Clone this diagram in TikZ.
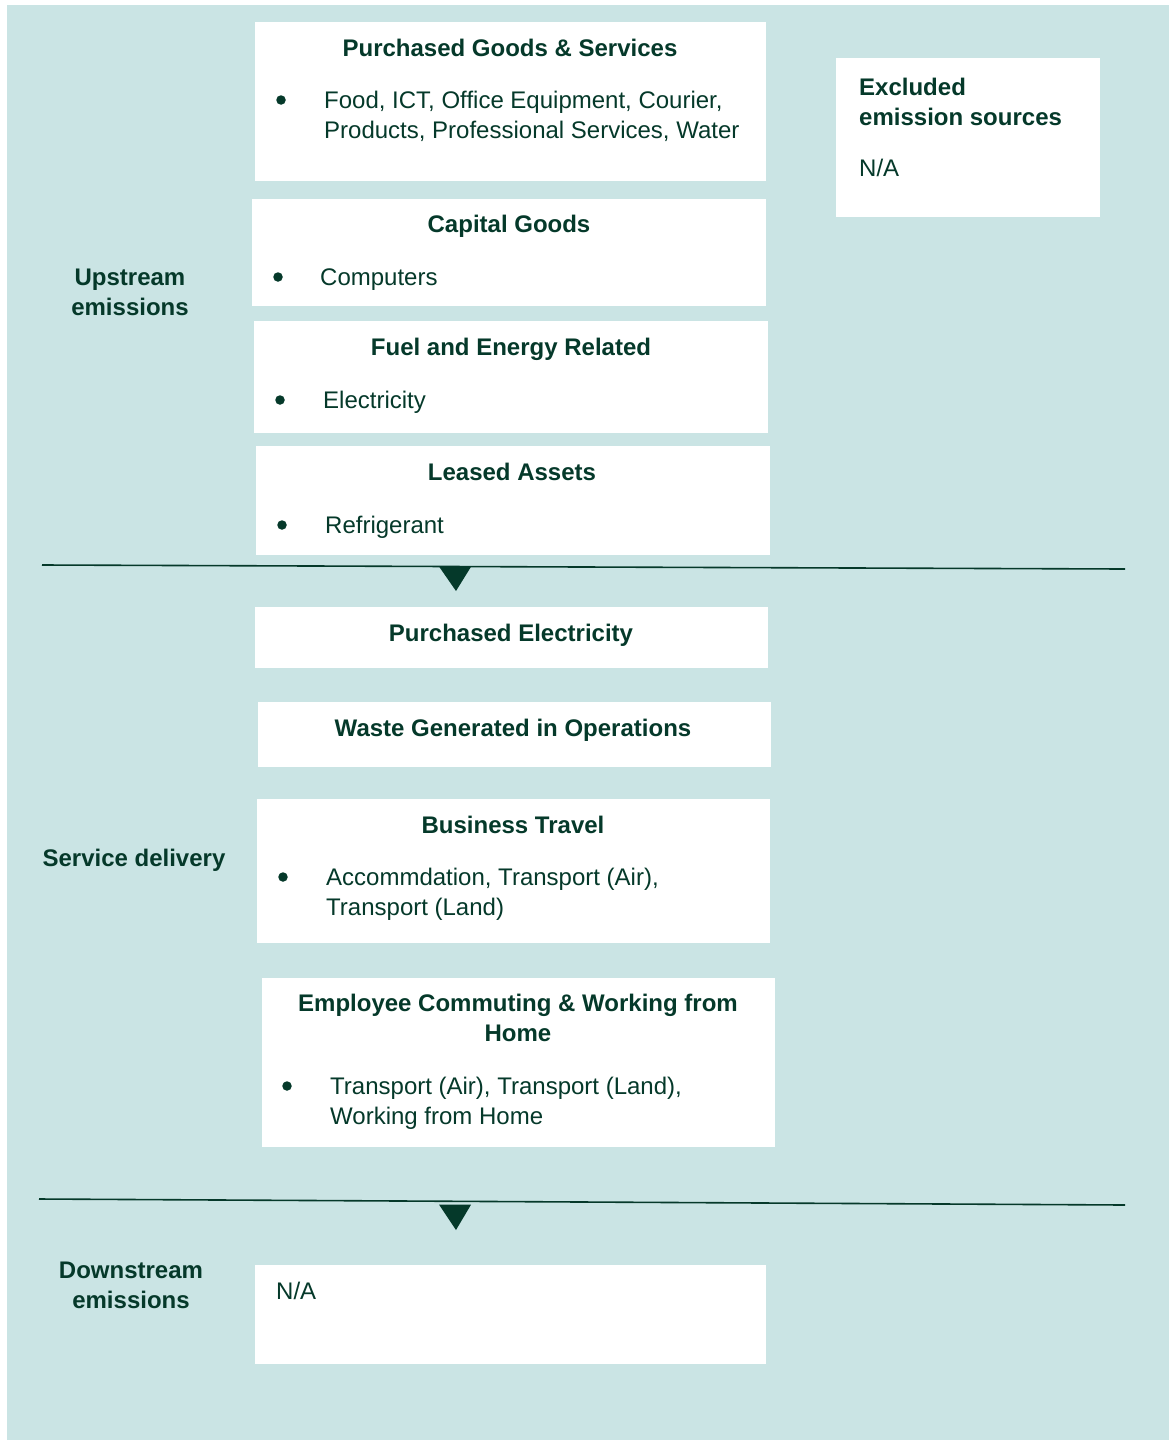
\documentclass[tikz,border=0pt]{standalone}
\usepackage{fontspec}
\setmainfont{Liberation Sans}
\definecolor{bgteal}{HTML}{CAE4E4}
\definecolor{dkgreen}{HTML}{05392A}

\tikzset{
  box/.style={fill=white, anchor=north west, inner sep=0pt, outer sep=0pt},
  head/.style={font=\fontsize{24}{30}\selectfont\bfseries, text=dkgreen, anchor=base, inner sep=0pt},
  txt/.style={font=\fontsize{24}{30}\selectfont, text=dkgreen, anchor=base west, inner sep=0pt},
  dot/.style={circle, fill=dkgreen, minimum size=9.5pt, inner sep=0pt},
  side/.style={font=\fontsize{24}{30}\selectfont\bfseries, text=dkgreen, anchor=base, inner sep=0pt},
  split/.style={draw=dkgreen, line width=1.6pt},
  tip/.style={fill=dkgreen}
}

\begin{document}
\begin{tikzpicture}[x=1pt, y=-1pt]
\useasboundingbox (0,0) rectangle (1169,1440);
\fill[bgteal] (7,5) rectangle (1169,1440);

% upstream
\node[box, minimum width=511, minimum height=159] (pgs) at (255,22) {};
\node[head] (pgsh) at (510,56) {Purchased Goods \& Services};
\node[dot] (pgsd) at (281,100) {};
\node[txt] (pgs1) at (324,108) {Food, ICT, Office Equipment, Courier,};
\node[txt] (pgs2) at (324,138) {Products, Professional Services, Water};

\node[box, minimum width=514, minimum height=107] (cap) at (252,199) {};
\node[head] (caph) at (509,232) {Capital Goods};
\node[dot] (capd) at (278,277) {};
\node[txt] (cap1) at (320,285) {Computers};

\node[box, minimum width=514, minimum height=112] (fuel) at (254,321) {};
\node[head] (fuelh) at (511,355) {Fuel and Energy Related};
\node[dot] (fueld) at (280,400) {};
\node[txt] (fuel1) at (323,408) {Electricity};

\node[box, minimum width=514, minimum height=109] (lease) at (256,446) {};
\node[head] (leaseh) at (512,480) {Leased Assets};
\node[dot] (leased) at (282,525) {};
\node[txt] (lease1) at (325,533) {Refrigerant};

\node[side] (up1) at (130,285) {Upstream};
\node[side] (up2) at (130,315) {emissions};

% excluded
\node[box, minimum width=264, minimum height=159] (excl) at (836,58) {};
\node[side, anchor=base west] (excl1) at (859,95) {Excluded};
\node[side, anchor=base west] (excl2) at (859,125) {emission sources};
\node[txt] (excl3) at (859,176) {N/A};

% first divider
\coordinate (s1a) at (42,565);
\coordinate (s1b) at (1125,569);
\draw[split] (s1a) -- (s1b);
\fill[tip] (439,566.5) -- (471,566.8) -- (456,591) -- cycle;

% service delivery
\node[box, minimum width=513, minimum height=61] (elec) at (255,607) {};
\node[head] (elech) at (511,641) {Purchased Electricity};

\node[box, minimum width=513, minimum height=65] (waste) at (258,702) {};
\node[head] (wasteh) at (513,736) {Waste Generated in Operations};

\node[box, minimum width=513, minimum height=144] (trav) at (257,799) {};
\node[head] (travh) at (513,833) {Business Travel};
\node[dot] (travd) at (283,877) {};
\node[txt] (trav1) at (326,885) {Accommdation, Transport (Air),};
\node[txt] (trav2) at (326,915) {Transport (Land)};

\node[box, minimum width=513, minimum height=169] (comm) at (262,978) {};
\node[head] (commh1) at (518,1011) {Employee Commuting \& Working from};
\node[head] (commh2) at (518,1041) {Home};
\node[dot] (commd) at (287,1086) {};
\node[txt] (comm1) at (330,1094) {Transport (Air), Transport (Land),};
\node[txt] (comm2) at (330,1124) {Working from Home};

\node[side] (serv) at (134,866) {Service delivery};

% second divider
\coordinate (s2a) at (39,1199);
\coordinate (s2b) at (1125,1205);
\draw[split] (s2a) -- (s2b);
\fill[tip] (439,1204.5) -- (471,1204.7) -- (456,1230) -- cycle;

% downstream
\node[box, minimum width=511, minimum height=99] (down) at (255,1265) {};
\node[txt] (down1) at (276,1299) {N/A};

\node[side] (dn1) at (131,1278) {Downstream};
\node[side] (dn2) at (131,1308) {emissions};

\end{tikzpicture}
\end{document}
